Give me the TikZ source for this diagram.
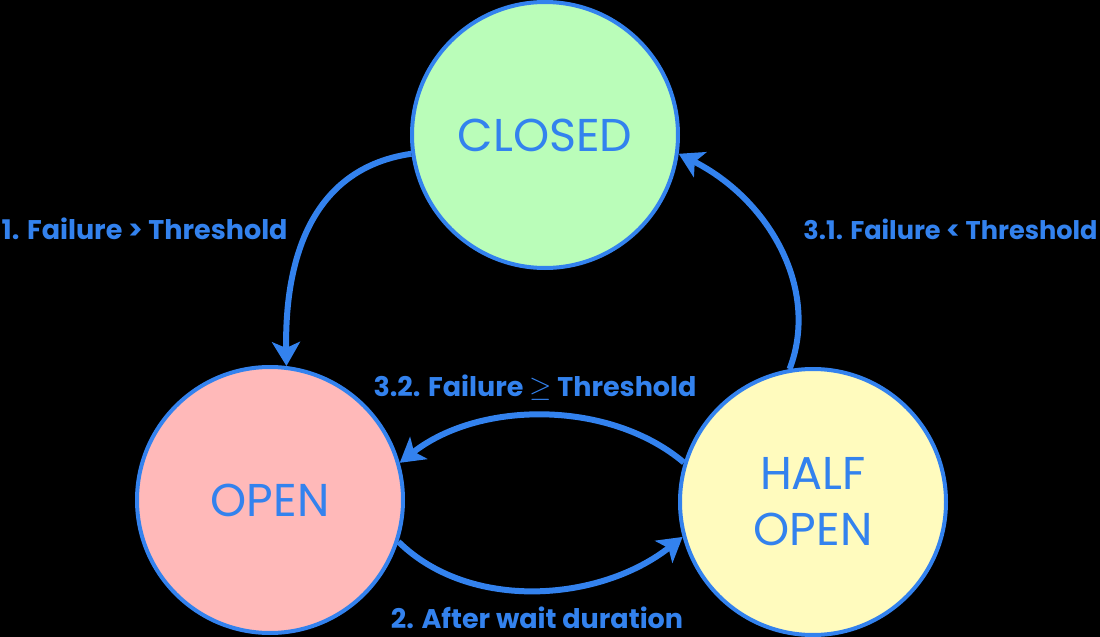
\documentclass[tikz,border=0pt]{standalone}
\usepackage{fontspec}
\setmainfont{Poppins}
\usetikzlibrary{arrows.meta}
\definecolor{cblue}{HTML}{3382EE}
\definecolor{cgreen}{HTML}{BAFDB9}
\definecolor{cpink}{HTML}{FFB9B9}
\definecolor{cyellow}{HTML}{FFFBBE}
\tikzset{
  state/.style={circle, draw=cblue, line width=2pt, minimum size=133pt, inner sep=0pt,
    text=cblue, font=\fontsize{23}{27}\selectfont, align=center},
  conn/.style={draw=cblue, line width=3pt, -{Stealth[length=12pt,width=14pt,inset=3pt]}},
  lbl/.style={text=cblue, font=\bfseries\fontsize{13.5}{16}\selectfont, inner sep=0pt}
}
\begin{document}
\begin{tikzpicture}[x=0.5pt, y=-0.5pt]
\fill[black] (0,0) rectangle (1100,637);
\useasboundingbox (0,0) rectangle (1100,637);
\node[state, fill=cgreen] (closed) at (545,135) {CLOSED};
\node[state, fill=cpink] (open) at (270,500) {OPEN};
\node[state, fill=cyellow] (half) at (813,502) {HALF\\[1pt]OPEN};
\draw[conn] (closed.188) .. controls (300,170) and (285,280) .. (open.83);
\draw[conn] (half.100) .. controls (820,290) and (770,200) .. (closed.-8);
\draw[conn] (half.163) .. controls (610,400) and (480,400) .. (open.16);
\draw[conn] (open.-18) .. controls (470,612) and (600,602) .. (half.195);
\node[lbl, anchor=east] (l1) at (288,229) {1. Failure > Threshold};
\node[lbl, anchor=east, font=\bfseries\fontsize{12.8}{16}\selectfont] (l31) at (1098,229) {3.1. Failure < Threshold};
\node[lbl] (l32) at (535,388) {3.2. Failure $\geq$ Threshold};
\node[lbl] (l2) at (537,618) {2. After wait duration};
\end{tikzpicture}
\end{document}
